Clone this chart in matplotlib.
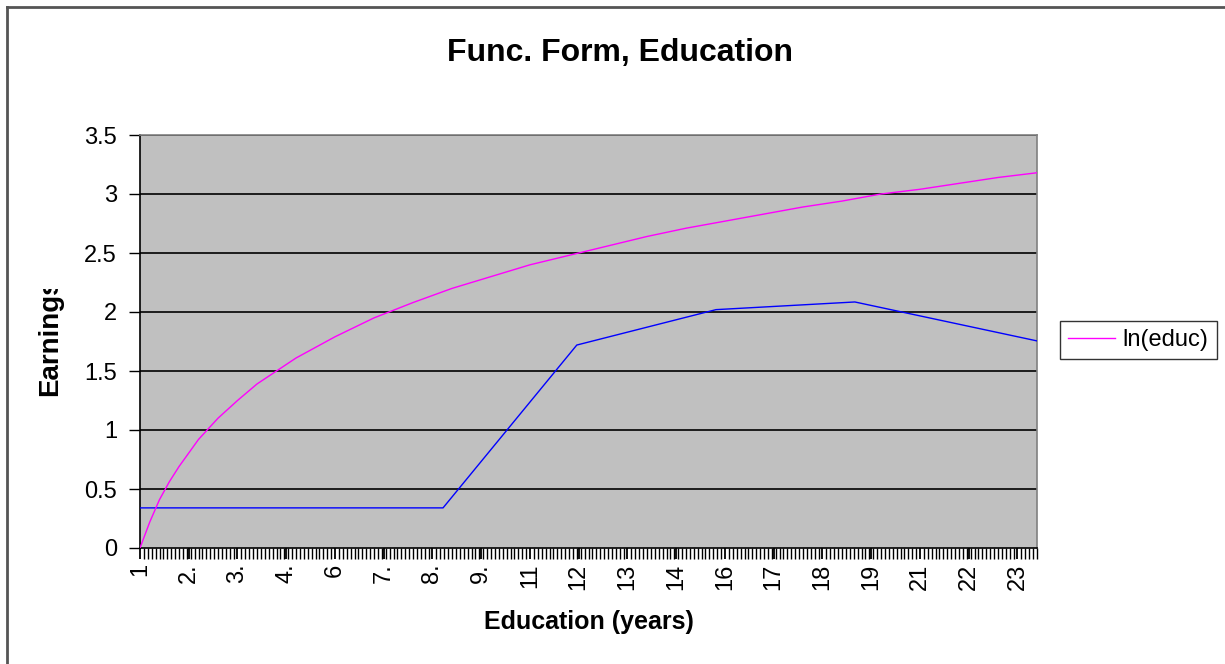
import matplotlib
matplotlib.use('Agg')
import matplotlib.pyplot as plt
from matplotlib.lines import Line2D
from matplotlib.transforms import Bbox, TransformedBbox
import numpy as np

plt.rcParams['font.family'] = ['Liberation Sans', 'DejaVu Sans']

# ln(educ) curve, values
educ_x = [1, 1.25, 1.5, 1.75, 2, 2.5, 3, 3.5, 4, 5, 6, 7, 8, 9, 10, 11, 12,
          13, 14, 15, 16, 17, 18, 19, 20, 21, 22, 23, 24]
ln_educ = [0.0, 0.22, 0.41, 0.56, 0.69, 0.92, 1.10, 1.25, 1.39, 1.61, 1.79,
           1.95, 2.08, 2.20, 2.30, 2.40, 2.48, 2.56, 2.64, 2.71, 2.77, 2.83,
           2.89, 2.94, 3.00, 3.04, 3.09, 3.14, 3.18]

# earnings profile (blue line)
earn_x = [1, 8.77, 12.2, 15.77, 19.33, 24]
earn_y = [0.34, 0.34, 1.72, 2.02, 2.085, 1.755]

tick_pos = [1, 2.25, 3.5, 4.75, 6, 7.25, 8.5, 9.75, 11, 12.25, 13.5, 14.75,
            16, 17.25, 18.5, 19.75, 21, 22.25, 23.5]
tick_labels = ['1', '2.', '3.', '4.', '6', '7.', '8.', '9.', '11', '12', '13',
               '14', '16', '17', '18', '19', '21', '22', '23']
y_ticks = [0, 0.5, 1, 1.5, 2, 2.5, 3, 3.5]
y_labels = ['0', '0.5', '1', '1.5', '2', '2.5', '3', '3.5']

fig = plt.figure(figsize=(12.25, 6.64), dpi=100)
ax = fig.add_axes([140 / 1225, 1 - 548 / 664, 897 / 1225, 413 / 664])
ax.set_facecolor('#C0C0C0')

for g in y_ticks[1:]:
    ax.axhline(g, color='black', lw=1.2, zorder=1)

ax.plot(earn_x, earn_y, color='#0000FF', lw=1.0, zorder=3)
line_ln, = ax.plot(educ_x, ln_educ, color='#FF00FF', lw=1.0, zorder=3)

ax.set_xlim(1, 24)
ax.set_ylim(0, 3.5)
ax.set_xticks(tick_pos)
ax.set_xticklabels(tick_labels, rotation=90, fontsize=17)
ax.set_xticks(np.arange(1, 24.01, 0.1), minor=True)
ax.set_yticks(y_ticks)
ax.set_yticklabels(y_labels, fontsize=17)
ax.tick_params(axis='x', which='major', direction='out', length=8, width=1.3, pad=3)
ax.tick_params(axis='x', which='minor', direction='out', length=8, width=1.0)
ax.tick_params(axis='y', direction='out', length=8, width=1, pad=8.5)

ax.spines['left'].set_color('black')
ax.spines['bottom'].set_color('black')
ax.spines['top'].set_color('#808080')
ax.spines['right'].set_color('#808080')
for s in ax.spines.values():
    s.set_linewidth(1.2)

ax.set_xlabel('Education (years)', fontsize=18, fontweight='bold', labelpad=15)
ylab = fig.text(50 / 1225, 1 - 396 / 664, 'Earnings', fontsize=20,
                fontweight='bold', rotation=90, ha='center', va='bottom')
# the label is cut off at the top in the original chart
ylab.set_clip_box(TransformedBbox(Bbox([[0, 0], [1, 1 - 289 / 664]]), fig.transFigure))
ylab.set_clip_on(True)

fig.text(620 / 1225, 1 - 53 / 664, 'Func. Form, Education', fontsize=23,
         fontweight='bold', ha='center', va='center')

leg = fig.legend([line_ln], ['ln(educ)'], loc='center left',
                 bbox_to_anchor=(1060 / 1225, 1 - 340 / 664), fontsize=17,
                 frameon=True, fancybox=False, handlelength=2.0,
                 borderpad=0.35, handletextpad=0.3, borderaxespad=0)
leg.get_frame().set_edgecolor('black')
leg.get_frame().set_linewidth(1.0)

# chart outer border (left and top visible)
fig.add_artist(Line2D([7 / 1225, 7 / 1225], [0, 1 - 7 / 664], color='#555555', lw=2))
fig.add_artist(Line2D([7 / 1225, 1], [1 - 7 / 664, 1 - 7 / 664], color='#555555', lw=2))

fig.savefig('out.png', dpi=100)
